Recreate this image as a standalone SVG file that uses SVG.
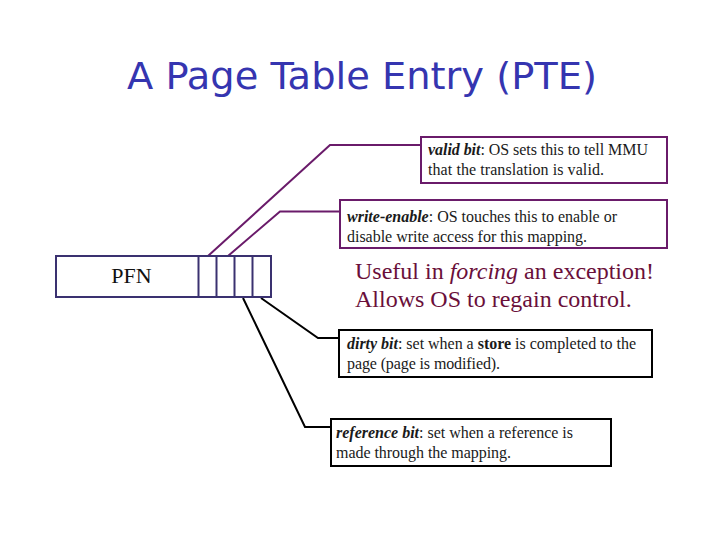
<svg xmlns="http://www.w3.org/2000/svg" width="720" height="540" viewBox="0 0 720 540">
<style>
.t{font-family:"Liberation Serif","Times New Roman",serif;font-size:16px;fill:#1a1a1a}
.bi{font-weight:bold;font-style:italic}
.u{font-family:"Liberation Serif","Times New Roman",serif;font-size:24px;fill:#6a0f3a}
.pbox{fill:#fff;stroke:#6a1b6a;stroke-width:2}
.kbox{fill:#fff;stroke:#000;stroke-width:2}
.pline{fill:none;stroke:#6a1b6a;stroke-width:2}
.kline{fill:none;stroke:#000;stroke-width:2}
.pte{fill:#fff;stroke:#3a3170;stroke-width:2}
</style>
<rect width="720" height="540" fill="#fff"/>
<g id="title">
<text x="362" y="89" text-anchor="middle" font-family="'DejaVu Sans','Open Sans',sans-serif" font-size="38" fill="#3535b0" textLength="470" lengthAdjust="spacingAndGlyphs">A Page Table Entry (PTE)</text>
</g>
<g id="connectors">
<polyline class="pline" points="208,256 330,145 421,145"/>
<polyline class="pline" points="228,256 280,211.5 340,211.5"/>
<polyline class="kline" points="261,298 318,338 339,338"/>
<polyline class="kline" points="243,298 305,427 331,427"/>
</g>
<g id="pte">
<rect class="pte" x="56" y="256" width="215" height="41"/>
<line class="pte" x1="198.5" y1="256" x2="198.5" y2="297"/>
<line class="pte" x1="216.5" y1="256" x2="216.5" y2="297"/>
<line class="pte" x1="234.5" y1="256" x2="234.5" y2="297"/>
<line class="pte" x1="252.5" y1="256" x2="252.5" y2="297"/>
<text x="131.5" y="283" text-anchor="middle" font-family="'Liberation Serif',serif" font-size="22" fill="#111">PFN</text>
</g>
<g id="valid">
<rect class="pbox" x="421" y="137" width="246" height="46"/>
<text class="t" x="428" y="155" textLength="220"><tspan class="bi">valid bit</tspan>: OS sets this to tell MMU</text>
<text class="t" x="428" y="175" textLength="176">that the translation is valid.</text>
</g>
<g id="write">
<rect class="pbox" x="340" y="200" width="327" height="48"/>
<text class="t" x="347" y="222" textLength="270"><tspan class="bi">write-enable</tspan>: OS touches this to enable or</text>
<text class="t" x="347" y="242" textLength="240">disable write access for this mapping.</text>
</g>
<g id="note">
<text class="u" x="355" y="279">Useful in <tspan font-style="italic">forcing</tspan> an exception!</text>
<text class="u" x="355" y="307">Allows OS to regain control.</text>
</g>
<g id="dirty">
<rect class="kbox" x="339" y="330" width="313" height="47"/>
<text class="t" x="347" y="349" textLength="289"><tspan class="bi">dirty bit</tspan>: set when a <tspan font-weight="bold">store</tspan> is completed to the</text>
<text class="t" x="347" y="369" textLength="153">page (page is modified).</text>
</g>
<g id="reference">
<rect class="kbox" x="331" y="419" width="280" height="47"/>
<text class="t" x="336" y="438" textLength="237"><tspan class="bi">reference bit</tspan>: set when a reference is</text>
<text class="t" x="336" y="458" textLength="175">made through the mapping.</text>
</g>
</svg>
